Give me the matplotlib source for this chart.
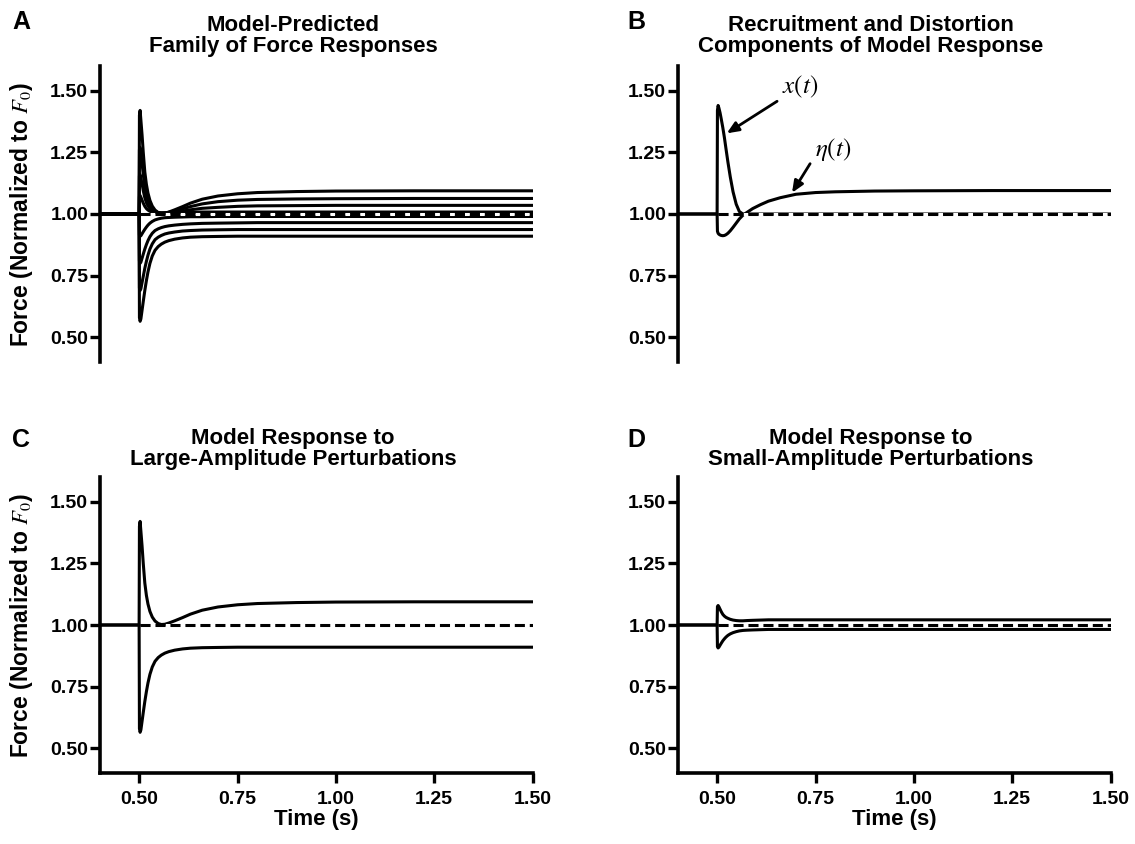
import matplotlib
matplotlib.use("Agg")
import matplotlib.pyplot as plt

plt.rcParams["font.family"] = ["Liberation Sans", "DejaVu Sans"]
plt.rcParams["mathtext.fontset"] = "stix"

# shared time samples (s)
t = [0.40, 0.4995, 0.5003, 0.502, 0.504, 0.507, 0.510, 0.514, 0.518, 0.522,
     0.527, 0.533, 0.540, 0.548, 0.556, 0.565, 0.575, 0.59, 0.61, 0.63,
     0.66, 0.70, 0.75, 0.80, 0.90, 1.00, 1.20, 1.50]

# large-amplitude responses (panels A and C)
large_up = [1.0, 1.0, 1.40, 1.42, 1.38, 1.32, 1.25, 1.17, 1.12, 1.085,
            1.055, 1.032, 1.016, 1.006, 1.002, 1.003, 1.008, 1.017, 1.030, 1.044,
            1.060, 1.073, 1.082, 1.087, 1.091, 1.093, 1.094, 1.094]
large_down = [1.0, 1.0, 0.58, 0.565, 0.575, 0.61, 0.645, 0.69, 0.73, 0.765,
              0.80, 0.83, 0.853, 0.868, 0.878, 0.886, 0.892, 0.898, 0.903, 0.906,
              0.908, 0.909, 0.91, 0.91, 0.91, 0.91, 0.91, 0.91]

# intermediate members of the family (panel A)
mid_up = [
    [1.0, 1.0, 1.26, 1.27, 1.245, 1.205, 1.16, 1.11, 1.078, 1.055,
     1.036, 1.021, 1.011, 1.005, 1.003, 1.004, 1.007, 1.012, 1.021, 1.030,
     1.041, 1.050, 1.056, 1.059, 1.061, 1.062, 1.063, 1.063],
    [1.0, 1.0, 1.155, 1.16, 1.145, 1.122, 1.095, 1.066, 1.046, 1.033,
     1.022, 1.013, 1.008, 1.005, 1.004, 1.004, 1.005, 1.008, 1.012, 1.017,
     1.023, 1.027, 1.031, 1.033, 1.034, 1.035, 1.035, 1.035],
    [1.0, 1.0, 1.07, 1.075, 1.068, 1.056, 1.044, 1.031, 1.022, 1.016,
     1.011, 1.008, 1.006, 1.005, 1.005, 1.005, 1.005, 1.006, 1.006, 1.007,
     1.008, 1.008, 1.008, 1.008, 1.008, 1.008, 1.008, 1.008],
]
mid_down = [
    [1.0, 1.0, 0.70, 0.69, 0.697, 0.722, 0.747, 0.78, 0.808, 0.833,
     0.858, 0.879, 0.896, 0.906, 0.913, 0.919, 0.923, 0.927, 0.931, 0.933,
     0.935, 0.936, 0.937, 0.937, 0.937, 0.937, 0.937, 0.937],
    [1.0, 1.0, 0.81, 0.80, 0.805, 0.821, 0.837, 0.858, 0.876, 0.892,
     0.908, 0.922, 0.933, 0.940, 0.945, 0.949, 0.952, 0.955, 0.958, 0.960,
     0.962, 0.963, 0.964, 0.965, 0.965, 0.965, 0.965, 0.965],
    [1.0, 1.0, 0.915, 0.91, 0.912, 0.92, 0.928, 0.938, 0.947, 0.955,
     0.963, 0.970, 0.976, 0.980, 0.983, 0.985, 0.986, 0.987, 0.988, 0.989,
     0.989, 0.990, 0.990, 0.990, 0.990, 0.990, 0.990, 0.990],
]

# recruitment x(t) and distortion eta(t) (panel B)
x_t = [1.0, 1.0, 1.42, 1.44, 1.43, 1.41, 1.385, 1.35, 1.31, 1.265,
       1.21, 1.15, 1.09, 1.04, 1.01, 1.0, 1.0, 1.0, 1.0, 1.0,
       1.0, 1.0, 1.0, 1.0, 1.0, 1.0, 1.0, 1.0]
eta_t = [1.0, 1.0, 0.93, 0.922, 0.918, 0.915, 0.913, 0.912, 0.913, 0.916,
         0.922, 0.932, 0.946, 0.963, 0.98, 0.995, 1.006, 1.022, 1.038, 1.052,
         1.066, 1.080, 1.087, 1.090, 1.093, 1.094, 1.095, 1.095]

# small-amplitude responses (panel D)
small_up = [1.0, 1.0, 1.075, 1.079, 1.074, 1.064, 1.054, 1.043, 1.036, 1.031,
            1.027, 1.023, 1.020, 1.018, 1.017, 1.017, 1.018, 1.019, 1.020, 1.021,
            1.021, 1.021, 1.021, 1.021, 1.021, 1.021, 1.021, 1.021]
small_down = [1.0, 1.0, 0.912, 0.907, 0.91, 0.918, 0.926, 0.936, 0.944, 0.951,
              0.958, 0.964, 0.969, 0.973, 0.976, 0.978, 0.979, 0.980, 0.981, 0.982,
              0.982, 0.982, 0.982, 0.982, 0.982, 0.982, 0.982, 0.982]

y_ticks = [0.50, 0.75, 1.00, 1.25, 1.50]
x_ticks = [0.50, 0.75, 1.00, 1.25, 1.50]

W, H = 1135, 844
fig = plt.figure(figsize=(W / 100, H / 100), dpi=100)

LW = 2.2


def make_ax(left, top, with_x):
    ax = fig.add_axes([left / W, 1 - (top + 296) / H, 432.5 / W, 296 / H])
    ax.set_xlim(0.40, 1.50)
    ax.set_ylim(0.40, 1.60)
    for s in ["top", "right"]:
        ax.spines[s].set_visible(False)
    for s in ["left", "bottom"]:
        ax.spines[s].set_linewidth(2.6)
    ax.set_yticks(y_ticks)
    ax.set_yticklabels([f"{v:.2f}" for v in y_ticks], fontweight="bold")
    ax.tick_params(axis="y", direction="out", length=7, width=2.4, pad=1.5, labelsize=14)
    if with_x:
        ax.set_xticks(x_ticks)
        ax.set_xticklabels([f"{v:.2f}" for v in x_ticks], fontweight="bold")
        ax.tick_params(axis="x", direction="out", length=7, width=2.4, pad=6, labelsize=14)
    else:
        ax.spines["bottom"].set_visible(False)
        ax.set_xticks([])
    # reference level: dashes with white gaps, drawn over the traces
    ax.plot([0.503, 1.50], [1.0, 1.0], color="black", lw=LW, dashes=(3.3, 1.6),
            gapcolor="white", zorder=3)
    return ax


axA = make_ax(100, 66, False)
axB = make_ax(678, 66, False)
axC = make_ax(100, 477, True)
axD = make_ax(678, 477, True)

for c in [large_up] + mid_up + mid_down + [large_down]:
    axA.plot(t, c, color="black", lw=LW, solid_joinstyle="round", zorder=2)
for c in [x_t, eta_t]:
    axB.plot(t, c, color="black", lw=LW, solid_joinstyle="round", zorder=2)
for c in [large_up, large_down]:
    axC.plot(t, c, color="black", lw=LW, solid_joinstyle="round", zorder=2)
for c in [small_up, small_down]:
    axD.plot(t, c, color="black", lw=LW, solid_joinstyle="round", zorder=2)

arrow = dict(arrowstyle="-|>,head_length=0.7,head_width=0.3", color="black", lw=2.0,
             shrinkA=0, shrinkB=0)
axB.annotate("", xy=(0.524, 1.327), xytext=(0.652, 1.457), arrowprops=arrow)
axB.annotate("", xy=(0.690, 1.086), xytext=(0.736, 1.204), arrowprops=arrow)
axB.text(0.710, 1.515, r"$x(t)$", fontsize=18, ha="center", va="center")
axB.text(0.795, 1.262, r"$\eta(t)$", fontsize=18, ha="center", va="center")

titles = [("Model-Predicted\nFamily of Force Responses", 293, 36),
          ("Recruitment and Distortion\nComponents of Model Response", 871, 36),
          ("Model Response to\nLarge-Amplitude Perturbations", 293, 449),
          ("Model Response to\nSmall-Amplitude Perturbations", 871, 449)]
for txt, x, y in titles:
    fig.text(x / W, 1 - y / H, txt, ha="center", va="center", fontsize=16,
             fontweight="bold", linespacing=1.05)

for letter, x, y in [("A", 21, 22), ("B", 636, 22), ("C", 21, 440), ("D", 636, 440)]:
    fig.text(x / W, 1 - y / H, letter, ha="center", va="center", fontsize=18, fontweight="bold")

for y in [214, 625]:
    fig.text(22 / W, 1 - y / H, r"Force (Normalized to $F_0$)", rotation=90,
             ha="center", va="center", fontsize=16.5, fontweight="bold")
for x in [316, 894]:
    fig.text(x / W, 1 - 820 / H, "Time (s)", ha="center", va="center", fontsize=16,
             fontweight="bold")

fig.savefig("out.png", dpi=100)
